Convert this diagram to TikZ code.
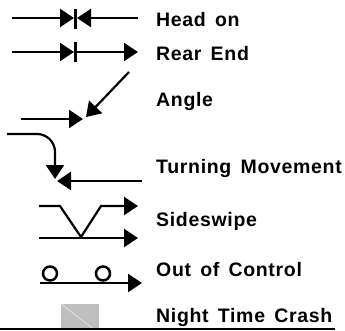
\documentclass[tikz,border=0pt]{standalone}
\usepackage{fontspec}
\setmainfont[WordSpace=1.5,LetterSpace=3.5]{Liberation Sans}
\usetikzlibrary{arrows.meta}
\tikzset{
  sym/.style={line width=2.2pt, draw=black},
  tip/.style={-{Triangle[length=14pt,width=18pt]}},
  label/.style={anchor=west, inner sep=0pt, font=\fontsize{19.5}{19.5}\selectfont\bfseries},
}
\begin{document}
\begin{tikzpicture}[x=1pt,y=-1pt]
\useasboundingbox (0,0) rectangle (345,330);
% Head on
\coordinate (h1) at (12,18); \coordinate (h2) at (74,18);
\coordinate (h3) at (138,18); \coordinate (h4) at (77,18);
\coordinate (hb1) at (75.5,9); \coordinate (hb2) at (75.5,29);
\draw[sym,tip] (h1) -- (h2);
\draw[sym,tip] (h3) -- (h4);
\draw[sym] (hb1) -- (hb2);
\node[label] (t1) at (156,20) {Head on};
% Rear End
\coordinate (r1) at (12,52); \coordinate (r2) at (74,52);
\coordinate (r3) at (138,52);
\coordinate (rb1) at (75.5,42); \coordinate (rb2) at (75.5,62);
\draw[sym,tip] (r1) -- (r2);
\draw[sym,tip] (r2) -- (r3);
\draw[sym] (rb1) -- (rb2);
\node[label] (t2) at (156,54) {Rear End};
% Angle
\coordinate (a1) at (21,119); \coordinate (a2) at (83,119);
\coordinate (a3) at (129,72); \coordinate (a4) at (86,117);
\draw[sym,tip] (a1) -- (a2);
\draw[sym,tip] (a3) -- (a4);
\node[label] (t3) at (156,101) {Angle};
% Turning Movement
\coordinate (m1) at (7,134); \coordinate (m2) at (37,134);
\coordinate (m3) at (55,179);
\coordinate (m4) at (142,181); \coordinate (m5) at (57,181);
\draw[sym,tip] (m1) -- (m2) arc[start angle=-90,end angle=0,radius=18] -- (m3);
\draw[sym,tip] (m4) -- (m5);
\node[label] (t4) at (156,168) {Turning Movement};
% Sideswipe
\coordinate (s1) at (39,206); \coordinate (s2) at (60,206);
\coordinate (s3) at (81,237); \coordinate (s4) at (101,206);
\coordinate (s5) at (138,206);
\coordinate (s6) at (39,238); \coordinate (s7) at (138,238);
\draw[sym,tip] (s1) -- (s2) -- (s3) -- (s4) -- (s5);
\draw[sym,tip] (s6) -- (s7);
\node[label] (t5) at (156,221) {Sideswipe};
% Out of Control
\coordinate (c1) at (50,273.5); \coordinate (c2) at (103,273.5);
\coordinate (o1) at (40,283); \coordinate (o2) at (142,283);
\draw[sym, line width=2.5pt] (c1) circle[radius=7];
\draw[sym, line width=2.5pt] (c2) circle[radius=7];
\draw[sym,tip] (o1) -- (o2);
\node[label] (t6) at (156,270) {Out of Control};
% Night Time Crash
\fill[black!25] (61,304) rectangle (99,330);
\draw[white!85!gray, line width=0.6pt] (61,304) -- (95,330);
\node[label] (t7) at (156,317) {Night Time Crash};
% bottom line
\coordinate (b1) at (0,329.2); \coordinate (b2) at (335,329.2);
\draw[line width=1.6pt] (b1) -- (b2);
\end{tikzpicture}
\end{document}
